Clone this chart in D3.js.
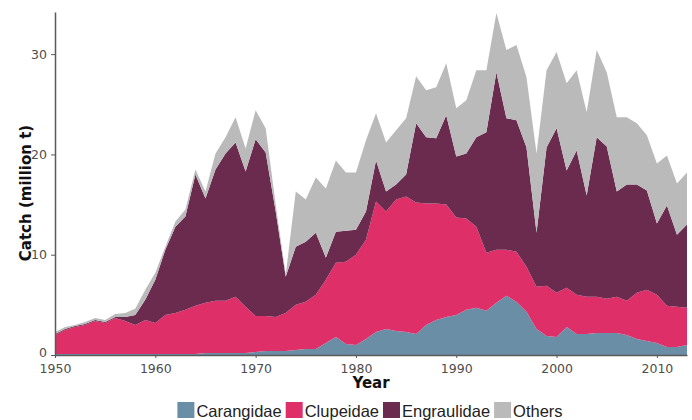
<!DOCTYPE html>
<html>
<head>
  <meta charset="utf-8">
  <script src="https://d3js.org/d3.v7.min.js"></script>
  <style>
    body { margin: 0; background: #fff; }
  </style>
</head>
<body>
<script>
// catch per group, million t
const years = d3.range(1950, 2014);
const carangidae = [0.1,0.1,0.1,0.1,0.1,0.1,0.1,0.1,0.1,0.1,
  0.1,0.1,0.1,0.1,0.1,0.2,0.2,0.2,0.2,0.2,
  0.3,0.4,0.4,0.4,0.5,0.6,0.6,1.2,1.8,1.1,
  1.0,1.6,2.3,2.6,2.4,2.3,2.1,3.0,3.5,3.8,
  4.0,4.5,4.7,4.4,5.2,5.9,5.3,4.3,2.6,1.9,
  1.8,2.8,2.1,2.1,2.2,2.2,2.2,2.0,1.6,1.4,
  1.2,0.8,0.8,1.0];
const clupeidae = [1.9,2.4,2.7,2.9,3.3,3.1,3.6,3.3,2.9,3.4,
  3.1,3.9,4.1,4.4,4.8,5.0,5.2,5.2,5.6,4.6,
  3.6,3.5,3.4,3.8,4.5,4.7,5.4,6.3,7.4,8.2,
  9.0,9.9,13.0,11.7,13.1,13.5,13.1,12.1,11.6,11.2,
  9.7,9.1,8.1,5.8,5.3,4.6,5.0,4.5,4.2,5.0,
  4.4,3.9,3.9,3.7,3.6,3.4,3.6,3.4,4.6,5.1,
  4.8,4.1,4.0,3.7];
const engraulidae = [0.1,0.1,0.1,0.1,0.1,0.1,0.1,0.4,1.0,2.0,
  4.3,6.5,8.6,9.3,13.1,10.4,13.1,14.7,15.4,13.5,
  17.6,16.3,10.5,3.6,5.8,6.0,6.2,2.2,3.1,3.1,
  2.5,2.8,4.1,2.0,1.5,2.2,7.9,6.6,6.5,8.9,
  6.1,6.5,8.9,12.0,17.7,13.1,13.1,11.9,5.4,13.8,
  16.4,11.7,14.4,10.1,15.9,15.2,10.5,11.6,10.8,9.9,
  7.1,10.0,7.2,8.3];
const others = [0.2,0.2,0.1,0.2,0.2,0.2,0.3,0.4,0.6,1.0,
  0.7,0.3,0.5,0.7,0.5,0.7,1.6,1.6,2.5,2.3,
  2.9,2.4,0.7,0.2,5.5,4.2,5.5,6.9,7.1,5.8,
  5.7,7.1,4.7,4.9,5.4,5.6,4.7,4.7,5.1,5.2,
  4.8,5.3,6.7,6.2,5.9,6.8,7.5,7.0,7.9,7.7,
  7.6,8.7,8.0,8.3,8.7,7.4,7.4,6.7,6.1,5.5,
  6.0,5.0,5.1,5.2];

const groups = ['Carangidae', 'Clupeidae', 'Engraulidae', 'Others'];
const colors = ['#6a8ea6', '#df2f69', '#6a2b4f', '#bababa'];
const yTicks = [0, 10, 20, 30];
const xTicks = [1950, 1960, 1970, 1980, 1990, 2000, 2010];

const w = 692, h = 420;
const padL = 55, padR = 687, padT = 12, padB = 355;

const rows = years.map((yr, i) => ({
  year: yr,
  Carangidae: carangidae[i],
  Clupeidae: clupeidae[i],
  Engraulidae: engraulidae[i],
  Others: others[i]
}));

const stacked = d3.stack().keys(groups)(rows);

const x = d3.scaleLinear().domain([1950, 2013]).range([padL, padR]);
const y = d3.scaleLinear().domain([0, 34.2]).range([padB, padT]);
const color = d3.scaleOrdinal().domain(groups).range(colors);

const svg = d3.select('body').append('svg')
  .attr('width', w)
  .attr('height', h);

const area = d3.area()
  .x(d => x(d.data.year))
  .y0(d => y(d[0]))
  .y1(d => y(d[1]));

svg.selectAll('path.layer')
  .data(stacked)
  .enter()
  .append('path')
  .attr('class', 'layer')
  .attr('d', area)
  .attr('fill', d => color(d.key));

// axes
const xAxis = d3.axisBottom(x).tickValues(xTicks).tickFormat(d3.format('d'))
  .tickSize(3).tickPadding(6).tickSizeOuter(0);
const yAxis = d3.axisLeft(y).tickValues(yTicks)
  .tickSize(4).tickPadding(4).tickSizeOuter(0);

const gx = svg.append('g')
  .attr('transform', `translate(0,${padB})`)
  .call(xAxis);
const gy = svg.append('g')
  .attr('transform', `translate(${padL},0)`)
  .call(yAxis);

[gx, gy].forEach(g => {
  g.select('.domain').attr('stroke', '#5a5a5a').attr('stroke-width', 1.5);
  g.selectAll('.tick line').attr('stroke', '#5a5a5a');
  g.selectAll('.tick text')
    .attr('fill', '#4d4d4d')
    .style('font-family', '"DejaVu Sans", sans-serif')
    .style('font-size', '12.5px');
});
// the 0 label sits a touch high so it clears 1950
gy.selectAll('.tick text').filter(d => d === 0).attr('dy', '0.1em');

svg.append('text')
  .attr('x', (padL + padR) / 2)
  .attr('y', 388)
  .attr('text-anchor', 'middle')
  .style('font-family', '"DejaVu Sans", sans-serif')
  .style('font-weight', 'bold')
  .style('font-size', '15px')
  .attr('fill', '#111')
  .text('Year');

svg.append('text')
  .attr('transform', 'translate(31,193) rotate(-90)')
  .attr('text-anchor', 'middle')
  .style('font-family', '"DejaVu Sans", sans-serif')
  .style('font-weight', 'bold')
  .style('font-size', '15px')
  .attr('fill', '#111')
  .text('Catch (million t)');

// legend
const legend = svg.append('g');
let pos = 0;
groups.forEach((g, i) => {
  const item = legend.append('g').attr('transform', `translate(${pos},0)`);
  item.append('rect')
    .attr('x', 0).attr('y', 402)
    .attr('width', 17).attr('height', 16)
    .attr('fill', colors[i]);
  const t = item.append('text')
    .attr('x', 19).attr('y', 417)
    .style('font-family', '"Liberation Sans", Arial, sans-serif')
    .style('font-size', '16.5px')
    .attr('fill', '#222')
    .text(g);
  pos += 19 + t.node().getComputedTextLength() + 4;
});
legend.attr('transform', `translate(${370 - (pos - 4) / 2},0)`);
</script>
</body>
</html>
